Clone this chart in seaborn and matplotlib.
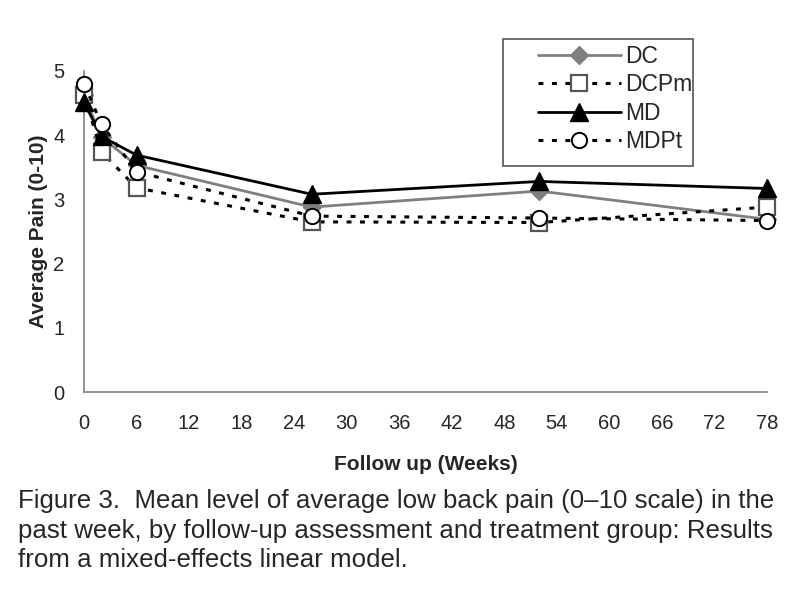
import matplotlib
matplotlib.use("Agg")
import matplotlib.pyplot as plt
from matplotlib.patches import Rectangle
import seaborn as sns
import pandas as pd

weeks = [0, 2, 6, 26, 52, 78]
dc = [4.62, 3.97, 3.53, 2.88, 3.13, 2.69]
dcpm = [4.62, 3.74, 3.18, 2.65, 2.64, 2.88]
md = [4.51, 3.98, 3.69, 3.08, 3.28, 3.17]
mdpt = [4.80, 4.17, 3.43, 2.74, 2.71, 2.67]
groups = ["DC", "DCPm", "MD", "MDPt"]
x_ticks = list(range(0, 79, 6))
y_ticks = [0, 1, 2, 3, 4, 5]
xlabel = "Follow up (Weeks)"
ylabel = "Average Pain (0-10)"
caption_lines = ["Figure 3.  Mean level of average low back pain (0\u201310 scale) in the",
                 "past week, by follow-up assessment and treatment group: Results",
                 "from a mixed-effects linear model."]

sns.set_style("white")
plt.rcParams['font.family'] = ['Liberation Sans', 'DejaVu Sans']

df = pd.DataFrame({
    "week": weeks * 4,
    "pain": dc + dcpm + md + mdpt,
    "group": sum([[g] * len(weeks) for g in groups], []),
})

dot = (0, (1.6, 2.8))
styles = {
    "DC":   dict(color="#7f7f7f", ls="-", lw=2.0, marker="D", ms=9, mfc="#7f7f7f", mec="#7f7f7f", mew=1),
    "DCPm": dict(color="black", ls=dot, lw=2.2, marker="s", ms=11, mfc="white", mec="#555555", mew=1.6),
    "MD":   dict(color="black", ls="-", lw=2.0, marker="^", ms=13, mfc="black", mec="black", mew=1),
    "MDPt": dict(color="black", ls=dot, lw=2.2, marker="o", ms=11, mfc="white", mec="black", mew=1.4),
}

W, H = 800, 597
fig = plt.figure(figsize=(W / 100, H / 100), dpi=100)
ax = fig.add_axes([84 / W, 1 - 392 / H, (767 - 84) / W, (392 - 71) / H])

for g in groups:
    st = styles[g]
    sub = df[df["group"] == g]
    sns.lineplot(data=sub, x="week", y="pain", ax=ax, color=st["color"], linewidth=st["lw"],
                 linestyle=st["ls"], marker=st["marker"], markersize=st["ms"],
                 markerfacecolor=st["mfc"], markeredgecolor=st["mec"], markeredgewidth=st["mew"],
                 label=g, clip_on=False, zorder=3)

ax.set_xlim(0, 78)
ax.set_ylim(0, 5)
ax.set_xticks(x_ticks)
ax.set_yticks(y_ticks)
ax.tick_params(axis="both", direction="out", length=5, width=1, color="#808080",
               labelsize=14.5)
ax.tick_params(axis="x", pad=11)
ax.tick_params(axis="y", pad=9)
for s in ["top", "right"]:
    ax.spines[s].set_visible(False)
for s in ["left", "bottom"]:
    ax.spines[s].set_color("#808080")
    ax.spines[s].set_linewidth(1.2)

ax.set_xlabel(xlabel, fontsize=15, fontweight="bold", labelpad=16)
ax.set_ylabel(ylabel, fontsize=15, fontweight="bold", labelpad=4)

# legend frame (drawn separately to match the wide left padding of the reference)
frame = Rectangle((503 / W, 1 - 166 / H), 190 / W, 127 / H, transform=fig.transFigure,
                  facecolor="white", edgecolor="#555555", linewidth=1.2, zorder=5, clip_on=False)
ax.add_patch(frame)
leg = ax.legend(loc="upper left", bbox_to_anchor=(538 / W, 1 - 45 / H),
                bbox_transform=fig.transFigure, frameon=False,
                fontsize=16.5, handlelength=3.6, handletextpad=0.2, borderpad=0.0,
                labelspacing=0.23, borderaxespad=0)
leg.set_zorder(6)

# caption, sized so that the first line spans the same width as in the reference
baselines = [508, 538, 567]
texts = [fig.text(18 / W, 1 - b / H, t, ha="left", va="baseline", fontsize=17)
         for t, b in zip(caption_lines, baselines)]
fig.canvas.draw()
r = fig.canvas.get_renderer()
w0 = texts[0].get_window_extent(r).width
scale = 760.0 / w0
for t in texts:
    t.set_fontsize(17 * scale)

fig.savefig("out.png", dpi=100, facecolor="white")
